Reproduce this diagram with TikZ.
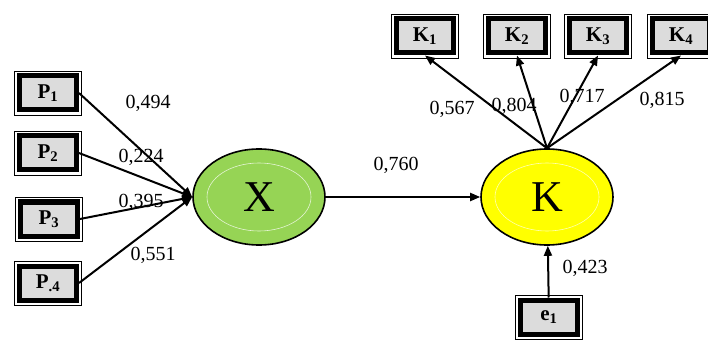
\documentclass[tikz,border=0pt]{standalone}
\usepackage{fontspec}
\setmainfont{Liberation Serif}
\usetikzlibrary{positioning,shapes.geometric,arrows.meta}
\definecolor{boxgray}{RGB}{220,220,220}
\definecolor{xgreen}{RGB}{150,212,85}
\definecolor{kyellow}{RGB}{255,255,0}
\tikzset{
  ind/.style={draw, line width=5pt, fill=boxgray, minimum width=57pt, minimum height=34pt,
    inner sep=0pt, font=\fontsize{21}{21}\selectfont\bfseries,
    append after command={\pgfextra{\draw[line width=0.9pt]
      ([shift={(-2.5pt,2.5pt)}]\tikzlastnode.north west) rectangle
      ([shift={(2.5pt,-2.5pt)}]\tikzlastnode.south east);}}},
  lat/.style={ellipse, draw, line width=1.6pt, minimum width=132pt, minimum height=96pt,
    font=\fontsize{44}{44}\selectfont},
  coef/.style={font=\fontsize{20}{20}\selectfont},
  arr/.style={-{Triangle[length=10pt,width=8pt]}, line width=2pt}
}
\begin{document}
\begin{tikzpicture}[x=1pt,y=-1pt]
                \useasboundingbox (0,0) rectangle (708,347);
                \node[ind] (p1) at (48,93) {P\textsubscript{1}};
                \node[ind] (p2) at (48,153) {P\textsubscript{2}};
                \node[ind] (p3) at (49,219) {P\textsubscript{3}};
                \node[ind] (p4) at (48,283) {P\textsubscript{.4}};
                \node[lat,fill=xgreen,
                      path picture={\draw[white!75!xgreen,line width=0.6pt]
                        (path picture bounding box.center) ellipse (52pt and 34pt);}]
                      (x) at (259,197) {X};
                \node[lat,fill=kyellow,
                      path picture={\draw[white!70!kyellow,line width=0.6pt]
                        (path picture bounding box.center) ellipse (52pt and 34pt);}]
                      (k) at (547,197) {K};
                \node[ind] (k1) at (425,36) {K\textsubscript{1}};
                \node[ind] (k2) at (517,36) {K\textsubscript{2}};
                \node[ind] (k3) at (598,36) {K\textsubscript{3}};
                \node[ind] (k4) at (681,36) {K\textsubscript{4}};
                \node[ind] (e1) at (549,317) {e\textsubscript{1}};
                \path[arr](p1.east) edge (x.west)
                        (p2.east) edge (x.west)
                        (p3.east) edge (x.west)
                        (p4.east) edge (x.west)
                        (x) edge (k)
                        (k.north) edge (k1.south)
                            edge (k2.south)
                            edge (k3.south)
                            edge (k4.south)
                        (e1) edge (k);
                \node[coef] (c1) at (148,103) {0,494};
                \node[coef] (c2) at (141,157) {0,224};
                \node[coef] (c3) at (141,202) {0,395};
                \node[coef] (c4) at (153,255) {0,551};
                \node[coef] (cx) at (396,165) {0,760};
                \node[coef] (ck1) at (452,109) {0,567};
                \node[coef] (ck2) at (514,106) {0,804};
                \node[coef] (ck3) at (582,97) {0,717};
                \node[coef] (ck4) at (662,100) {0,815};
                \node[coef] (ce) at (585,268) {0,423};
            \end{tikzpicture}
\end{document}
